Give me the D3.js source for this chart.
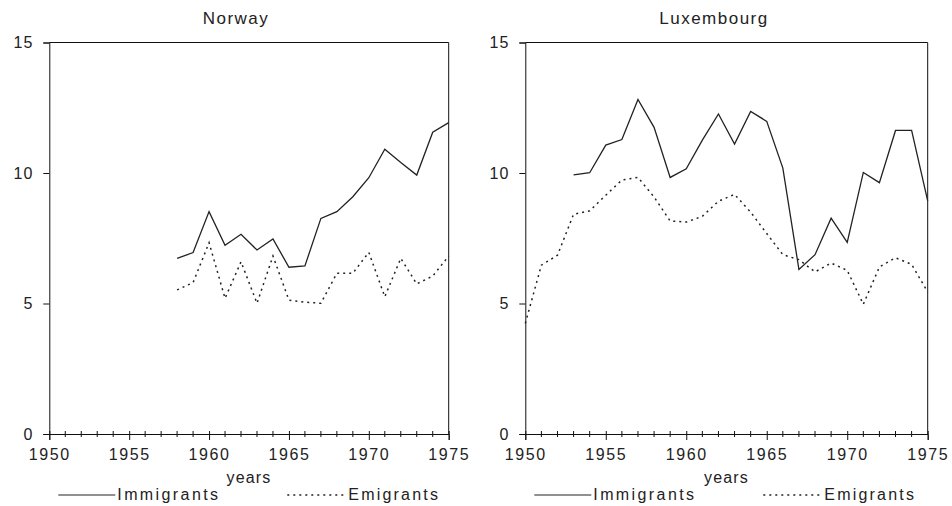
<!DOCTYPE html>
<html>
<head>
<meta charset="utf-8">
<script src="https://cdn.jsdelivr.net/npm/d3@7"></script>
<style>
  body { margin: 0; background: #fff; }
  text { font-family: "Liberation Sans", Arial, sans-serif; fill: #222; }
</style>
</head>
<body>
<div id="vis"></div>
<script>
// values (per 1000 population, roughly)
const norwayYears = [1958, 1959, 1960, 1961, 1962, 1963, 1964, 1965, 1966, 1967, 1968, 1969, 1970, 1971, 1972, 1973, 1974, 1975];
const norwayImmigrants = [6.73, 6.95, 8.52, 7.23, 7.65, 7.05, 7.47, 6.39, 6.44, 8.26, 8.52, 9.09, 9.82, 10.91, 10.4, 9.92, 11.56, 11.93];
const norwayEmigrants = [5.52, 5.80, 7.33, 5.20, 6.60, 5.01, 6.82, 5.13, 5.05, 5.01, 6.16, 6.16, 6.96, 5.26, 6.73, 5.75, 6.05, 6.82];

const luxImmYears = [1953, 1954, 1955, 1956, 1957, 1958, 1959, 1960, 1961, 1962, 1963, 1964, 1965, 1966, 1967, 1968, 1969, 1970, 1971, 1972, 1973, 1974, 1975];
const luxImmigrants = [9.93, 10.01, 11.07, 11.28, 12.82, 11.75, 9.83, 10.16, 11.26, 12.26, 11.11, 12.36, 11.98, 10.19, 6.30, 6.87, 8.27, 7.34, 10.02, 9.63, 11.63, 11.63, 8.93];
const luxEmiYears = [1950, 1951, 1952, 1953, 1954, 1955, 1956, 1957, 1958, 1959, 1960, 1961, 1962, 1963, 1964, 1965, 1966, 1967, 1968, 1969, 1970, 1971, 1972, 1973, 1974, 1975];
const luxEmigrants = [4.24, 6.47, 6.85, 8.42, 8.55, 9.15, 9.73, 9.83, 9.08, 8.16, 8.12, 8.34, 8.92, 9.18, 8.5, 7.68, 6.87, 6.68, 6.21, 6.55, 6.27, 4.97, 6.4, 6.75, 6.5, 5.44];

const yTicks = [0, 5, 10, 15];
const xLabels = [1950, 1955, 1960, 1965, 1970, 1975];
const legendNames = ["Immigrants", "Emigrants"];

const svg = d3.select("#vis").append("svg")
  .attr("width", 952)
  .attr("height", 506);

function panel(title, x0, x1, titleX, immYears, imm, emiYears, emi) {
  const top = 42.5, bottom = 434;
  const x = d3.scaleLinear().domain([1950, 1975]).range([x0, x1]);
  const y = d3.scaleLinear().domain([0, 15]).range([bottom, top]);
  const g = svg.append("g");

  // frame: top + right
  g.append("path")
    .attr("d", `M${x0},${top}H${x1}V${bottom}`)
    .attr("fill", "none").attr("stroke", "#111").attr("stroke-width", 1);

  // y axis
  const ya = g.append("g").attr("transform", `translate(${x0},0)`)
    .call(d3.axisLeft(y).tickValues(yTicks).tickSize(6).tickPadding(10).tickFormat(d3.format("d")));
  ya.select(".domain").attr("stroke", "#111");
  ya.selectAll("line").attr("stroke", "#111");
  ya.selectAll("text").style("font-size", "16px").style("letter-spacing", "1px")
    .style("font-family", "'Liberation Sans', Arial, sans-serif").attr("fill", "#222");

  // x axis, minor ticks every year crossing the line
  const xa = g.append("g").attr("transform", `translate(0,${bottom})`)
    .call(d3.axisBottom(x).tickValues(xLabels).tickSize(6).tickPadding(9).tickFormat(d3.format("d")));
  xa.select(".domain").attr("stroke", "#111");
  xa.selectAll("line").attr("stroke", "#111").attr("y1", -3);
  xa.selectAll("text").style("font-size", "16px").style("letter-spacing", "1.6px")
    .style("font-family", "'Liberation Sans', Arial, sans-serif").attr("fill", "#222");
  xa.selectAll(".minor").data(x.ticks(25).filter(d => d % 5 !== 0)).enter()
    .append("line").attr("class", "minor")
    .attr("x1", d => x(d)).attr("x2", d => x(d))
    .attr("y1", -3).attr("y2", 3)
    .attr("stroke", "#111");

  const line = d3.line().x(d => x(d[0])).y(d => y(d[1]));

  g.append("path")
    .datum(d3.zip(immYears, imm))
    .attr("fill", "none").attr("stroke", "#222").attr("stroke-width", 1.3)
    .attr("d", line);

  g.append("path")
    .datum(d3.zip(emiYears, emi))
    .attr("fill", "none").attr("stroke", "#222").attr("stroke-width", 1.5)
    .attr("stroke-dasharray", "2,4")
    .attr("d", line);

  g.append("text")
    .attr("x", titleX).attr("y", 24)
    .attr("text-anchor", "middle")
    .style("font-size", "17px").style("letter-spacing", "1.5px")
    .text(title);

  g.append("text")
    .attr("x", (x0 + x1) / 2).attr("y", 483)
    .attr("text-anchor", "middle")
    .style("font-size", "16px").style("letter-spacing", "1.2px")
    .text("years");

  // legend
  const lx = x0 + 9;
  g.append("line").attr("x1", lx).attr("x2", lx + 57).attr("y1", 495).attr("y2", 495)
    .attr("stroke", "#222").attr("stroke-width", 1);
  g.append("text").attr("x", lx + 59).attr("y", 500)
    .style("font-size", "16px").style("letter-spacing", "2.4px")
    .text(legendNames[0]);
  g.append("line").attr("x1", lx + 229).attr("x2", lx + 289).attr("y1", 495).attr("y2", 495)
    .attr("stroke", "#222").attr("stroke-width", 1.5).attr("stroke-dasharray", "2,4");
  g.append("text").attr("x", lx + 290).attr("y", 500)
    .style("font-size", "16px").style("letter-spacing", "2.2px")
    .text(legendNames[1]);
}

panel("Norway", 49.3, 448.7, 236, norwayYears, norwayImmigrants, norwayYears, norwayEmigrants);
panel("Luxembourg", 525.3, 927.7, 714, luxImmYears, luxImmigrants, luxEmiYears, luxEmigrants);
</script>
</body>
</html>
